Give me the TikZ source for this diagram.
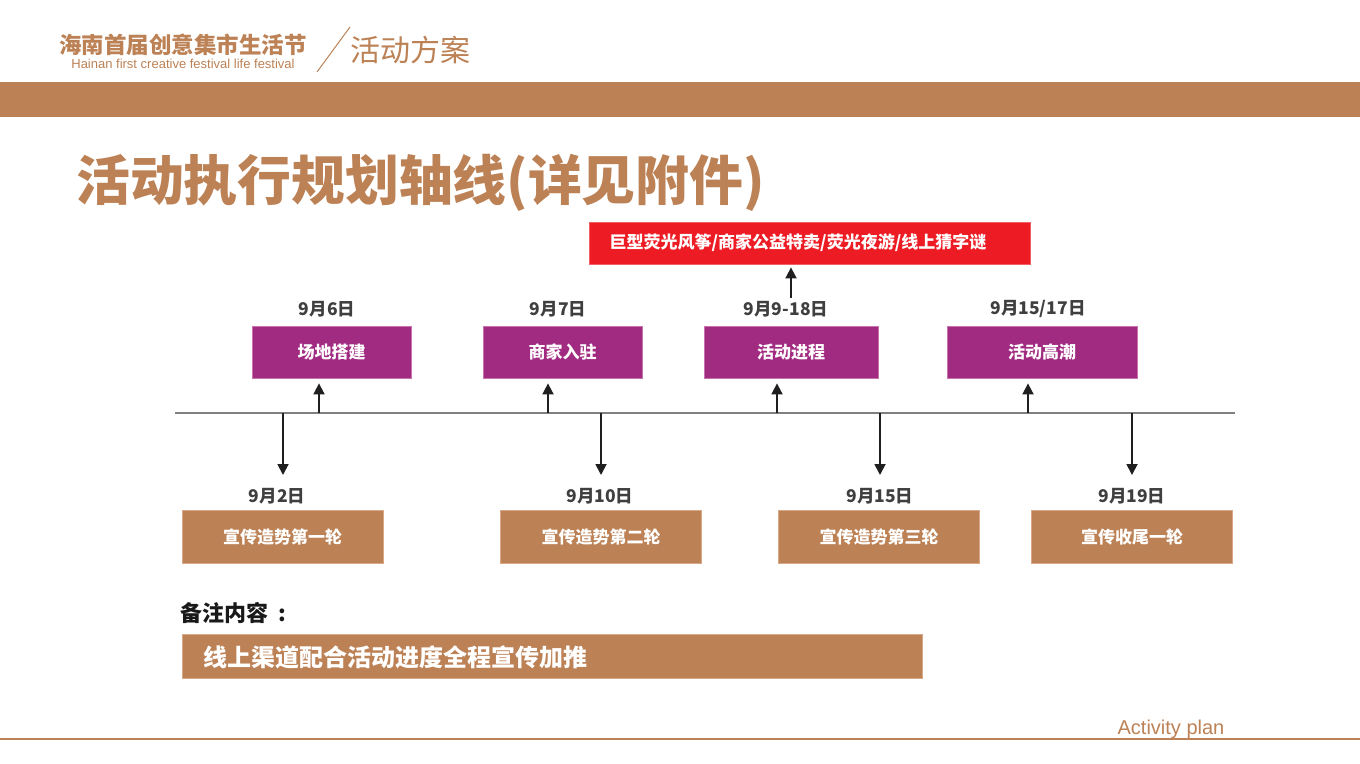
\documentclass[tikz,border=0pt]{standalone}
\usepackage{fontspec}
\setmainfont{Liberation Sans}
\newfontfamily\cjk{Noto Sans CJK SC}
\usetikzlibrary{arrows.meta}
\definecolor{brn}{HTML}{BC8155}
\definecolor{brnedge}{HTML}{D9A886}
\definecolor{prp}{HTML}{A22B82}
\definecolor{prpedge}{HTML}{C873AE}
\definecolor{redb}{HTML}{ED1C24}
\definecolor{datec}{HTML}{3F3F3F}
\definecolor{tline}{HTML}{808080}
\newcommand{\fsz}[1]{\fontsize{#1}{#1}\selectfont}
\tikzset{
  pbox/.style={fill=prp, draw=prpedge, line width=0.8pt, minimum height=52pt, inner sep=0pt,
    text=white, font=\cjk\bfseries\fsz{17}},
  bbox/.style={fill=brn, draw=brnedge, line width=0.8pt, minimum width=201pt, minimum height=53pt, inner sep=0pt,
    text=white, font=\cjk\bfseries\fsz{17}},
  datelbl/.style={text=datec, font=\cjk\bfseries\fsz{17.5}, inner sep=0pt},
  arr/.style={line width=1.8pt, draw=black!88, -{Triangle[length=11pt,width=11pt]}},
}
\begin{document}
\begin{tikzpicture}[x=1pt,y=-1pt]
\useasboundingbox (0,0) rectangle (1360,763);
% header
\node[text=brn, font=\cjk\bfseries\fsz{22.5}, inner sep=0pt] (htitle) at (183,45) {海南首届创意集市生活节};
\node[text=brn, font=\fsz{13}, inner sep=0pt] (hsub) at (183,63.5) {Hainan first creative festival life festival};
\coordinate (sl1) at (317,72);
\coordinate (sl2) at (350,27);
\draw[brn, line width=1pt] (sl1) -- (sl2);
\node[text=brn, font=\cjk\fsz{30}, inner sep=0pt] (hplan) at (410,50) {活动方案};
\fill[brn] (0,82) rectangle (1360,117);
% title
\node[anchor=west, text=brn, font=\cjk\bfseries\fsz{53.8}, inner sep=0pt] (title) at (76,183) {活动执行规划轴线(详见附件)};
% red box
\node[fill=redb, draw=redb!70!white, line width=0.8pt, minimum width=441pt, minimum height=42pt, inner sep=0pt] (red) at (809.5,243) {};
\node[text=white, font=\cjk\bfseries\fsz{17}, inner sep=0pt] (redt) at (798,243) {巨型荧光风筝/商家公益特卖/荧光夜游/线上猜字谜};
% purple boxes
\node[pbox, minimum width=159pt] (p1) at (331.5,352) {场地搭建};
\node[pbox, minimum width=159pt] (p2) at (562.5,352) {商家入驻};
\node[pbox, minimum width=174pt] (p3) at (791,352) {活动进程};
\node[pbox, minimum width=190pt] (p4) at (1042,352) {活动高潮};
\node[datelbl] (t1) at (327,309) {9月6日};
\node[datelbl] (t2) at (558,309) {9月7日};
\node[datelbl] (t3) at (786,309) {9月9-18日};
\node[datelbl] (t4) at (1038,309) {9月15/17日};
\coordinate (rs) at (791,298);
\draw[arr, shorten >=3pt] (rs) -- (rs |- red.south);
% timeline
\coordinate (tl0) at (175,413);
\coordinate (tl1) at (1235,413);
\draw[tline, line width=1.2pt] (tl0) -- (tl1);
\coordinate (u1) at (319,413);
\coordinate (u2) at (548,413);
\coordinate (u3) at (777,413);
\coordinate (u4) at (1028,413);
\foreach \u/\p in {u1/p1,u2/p2,u3/p3,u4/p4}{
  \draw[arr, shorten >=5pt] (\u) -- (\u |- \p.south);
}
% bottom
\node[datelbl] (b1l) at (277,496) {9月2日};
\node[datelbl] (b2l) at (600,496) {9月10日};
\node[datelbl] (b3l) at (880,496) {9月15日};
\node[datelbl] (b4l) at (1132,496) {9月19日};
\node[bbox] (b1) at (282.5,536.5) {宣传造势第一轮};
\node[bbox] (b2) at (601,536.5) {宣传造势第二轮};
\node[bbox] (b3) at (879,536.5) {宣传造势第三轮};
\node[bbox] (b4) at (1132,536.5) {宣传收尾一轮};
\coordinate (d1) at (283,413);
\coordinate (d2) at (601,413);
\coordinate (d3) at (880,413);
\coordinate (d4) at (1132,413);
\coordinate (e1) at (283,475);
\coordinate (e2) at (601,475);
\coordinate (e3) at (880,475);
\coordinate (e4) at (1132,475);
\foreach \d/\e in {d1/e1,d2/e2,d3/e3,d4/e4}{
  \draw[arr] (\d) -- (\e);
}
% notes
\node[anchor=west, text=black!90, font=\cjk\bfseries\fsz{22}, inner sep=0pt] (note) at (180,613) {备注内容\hspace{10pt}:};
\node[fill=brn, draw=brnedge, line width=0.8pt, minimum width=740pt, minimum height=44pt, inner sep=0pt] (bar) at (552,656) {};
\node[anchor=west, text=white, font=\cjk\bfseries\fsz{24}, inner sep=0pt] (bart) at (203,657) {线上渠道配合活动进度全程宣传加推};
% footer
\coordinate (f0) at (0,739);
\coordinate (f1) at (1360,739);
\draw[brn, line width=1.2pt] (f0) -- (f1);
\node[text=brn, font=\fsz{20}, inner sep=0pt] (act) at (1171,729) {Activity plan};
\end{tikzpicture}
\end{document}
